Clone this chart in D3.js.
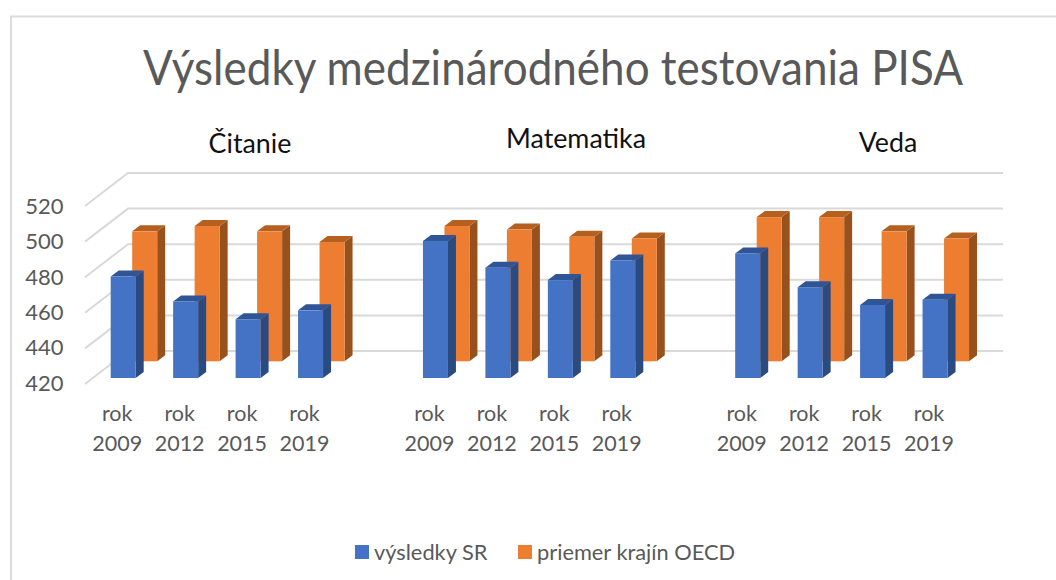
<!DOCTYPE html>
<html><head><meta charset="utf-8">
<style>html,body{margin:0;padding:0;background:#fff;overflow:hidden}svg{display:block}text{font-family:Lato,"Open Sans",sans-serif}</style>
<script src="https://cdn.jsdelivr.net/npm/d3@7"></script></head>
<body><svg id="c" width="1056" height="580"></svg>
<script>
const title = "Výsledky medzinárodného testovania PISA";
const years = ["2009","2012","2015","2019"];
const subjects = ["Čitanie","Matematika","Veda"];
const srValues = [[477,463,453,458],[497,482,475,486],[490,471,461,464]];
const oecdValues = [[493,496,493,487],[496,494,490,489],[501,501,493,489]];
const seriesNames = ["výsledky SR","priemer krajín OECD"];
const ticks = [420,440,460,480,500,520];
const colors = {sr:["#4472c4","#2f5597","#2b4a80"],oecd:["#ed7d31","#b5601f","#97511c"]};

const svg = d3.select("#c");
svg.append("rect").attr("x",11).attr("y",16.5).attr("width",1100).attr("height",700)
  .attr("fill","#fff").attr("stroke","#dcdcdc").attr("stroke-width",2);

const slots = [];
subjects.forEach((s,i)=>{years.forEach(y=>slots.push(s+y)); if(i<2) slots.push("gap"+i);});
const x = d3.scaleBand().domain(slots).range([110.7,110.7+62.45*slots.length]).padding(0);
const y = d3.scaleLinear().domain([420,520]).range([351,173]);
const yLabel = d3.scaleLinear().domain([420,520]).range([390.5,214]);
const floorFront = 378, floorBack = 361.3;
const barW = 25, depthX = 8, depthY = 6, rowX = 21.5;

const grid = svg.append("g").attr("stroke","#d9d9d9").attr("stroke-width",2).attr("fill","none");
ticks.forEach(t=>{
  grid.append("path").attr("d",`M85,${y(t)+33}L128,${y(t)}L1003,${y(t)}`);
});
ticks.forEach(t=>{
  svg.append("text").attr("x",63.5).attr("y",yLabel(t)).attr("text-anchor","end")
    .attr("font-size",22).attr("fill","#595959").text(t);
});

function bar(g,x0,base,val,c){
  const h = (val-420)*(y(420)-y(421));
  const top = base-h;
  g.append("path").attr("fill",c[2]).attr("d",`M${x0+barW},${top}l${depthX},${-depthY}L${x0+barW+depthX},${base-depthY}L${x0+barW},${base}Z`);
  g.append("path").attr("fill",c[1]).attr("d",`M${x0},${top}l${depthX},${-depthY}h${barW}l${-depthX},${depthY}Z`);
  g.append("rect").attr("x",x0).attr("y",top).attr("width",barW).attr("height",h).attr("fill",c[0]);
}
const back = svg.append("g"), front = svg.append("g");
subjects.forEach((s,i)=>years.forEach((yr,j)=>{
  const key = s+yr, x0 = x(key);
  bar(back,x0+rowX,floorBack,oecdValues[i][j],colors.oecd);
  bar(front,x0,floorFront,srValues[i][j],colors.sr);
  const lab = svg.append("text").attr("text-anchor","middle").attr("font-size",21.5).attr("fill","#595959");
  lab.append("tspan").attr("x",x0+barW/2-6).attr("y",421).text("rok");
  lab.append("tspan").attr("x",x0+barW/2-6).attr("y",451).text(yr);
}));

const subjX=[250,576,888], subjY=[153,148,152];
subjects.forEach((s,i)=>svg.append("text").attr("x",subjX[i]).attr("y",subjY[i]).attr("text-anchor","middle")
  .attr("font-size",26.8).attr("fill","#111").text(s));
svg.append("text").attr("x",553).attr("y",85).attr("text-anchor","middle").attr("font-size",48)
  .attr("textLength",820).attr("lengthAdjust","spacingAndGlyphs").attr("fill","#595959").text(title);

const lg = [[355,colors.sr[0],374],[518,colors.oecd[0],537]];
seriesNames.forEach((n,i)=>{
  svg.append("rect").attr("x",lg[i][0]).attr("y",545).attr("width",14).attr("height",14).attr("fill",lg[i][1]);
  svg.append("text").attr("x",lg[i][2]).attr("y",559.5).attr("font-size",21.8).attr("fill","#595959").text(n);
});
</script></body></html>
